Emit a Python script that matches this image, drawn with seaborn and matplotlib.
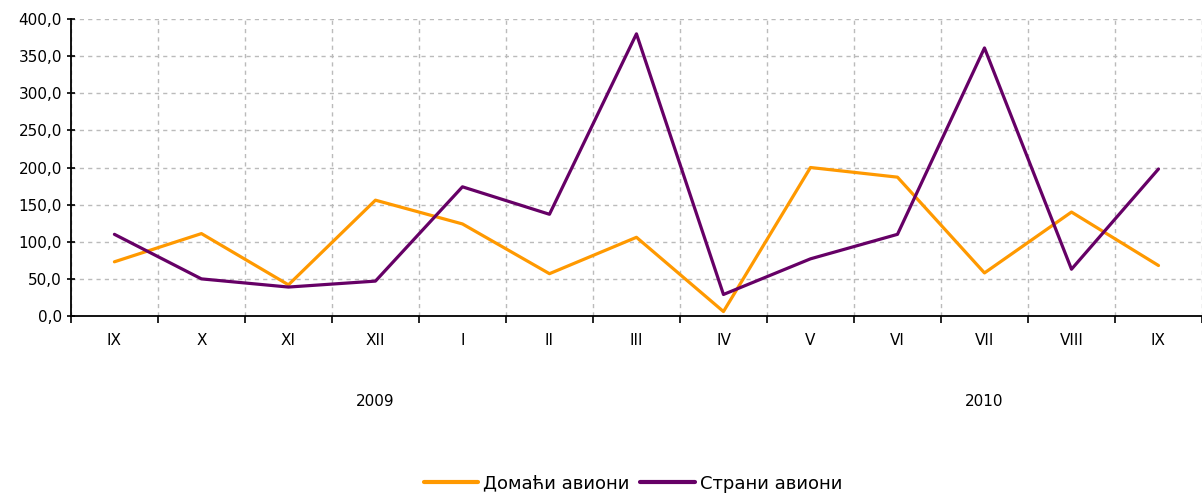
import pandas as pd
import matplotlib
matplotlib.use("Agg")
import matplotlib.pyplot as plt
import seaborn as sns
from matplotlib.ticker import FuncFormatter, FixedLocator

# podaci očitani sa grafikona
meseci = ["IX", "X", "XI", "XII", "I", "II", "III", "IV", "V", "VI", "VII", "VIII", "IX"]
domaci = [73, 111, 42, 156, 124, 57, 106, 6, 200, 187, 58, 140, 68]
strani = [110, 50, 39, 47, 174, 137, 380, 29, 77, 110, 361, 63, 198]
godine = ["2009", "2010"]
godine_poz = [3, 10]

poz = list(range(len(meseci)))
df = pd.concat([
    pd.DataFrame({"poz": poz, "vrednost": domaci, "serija": "Домаћи авиони"}),
    pd.DataFrame({"poz": poz, "vrednost": strani, "serija": "Страни авиони"}),
])

sns.set_style("white")
plt.rcParams["font.family"] = ["DejaVu Sans"]
plt.rcParams["text.color"] = "black"
plt.rcParams["xtick.color"] = "black"
plt.rcParams["ytick.color"] = "black"

fig = plt.figure(figsize=(12.02, 4.95), dpi=100)
ax = fig.add_axes([0.059, 0.3616, 0.941, 0.6])

sns.lineplot(data=df, x="poz", y="vrednost", hue="serija",
             palette=["#FF9900", "#660066"], linewidth=2.3, ax=ax, legend=True)

ax.set_xlim(-0.5, len(meseci) - 0.5)
ax.set_ylim(0, 400)
ax.set_yticks(range(0, 401, 50))
ax.yaxis.set_major_formatter(FuncFormatter(lambda v, p: f"{v:.1f}".replace(".", ",")))

# granice kategorija kao glavne podele, nazivi meseci na sredini
ax.xaxis.set_major_locator(FixedLocator([i - 0.5 for i in range(len(meseci) + 1)]))
ax.xaxis.set_minor_locator(FixedLocator(poz))
ax.set_xticklabels([""] * (len(meseci) + 1))
ax.set_xticklabels(meseci, minor=True)
ax.tick_params(axis="x", which="major", bottom=True, length=5, width=1.2, direction="out",
               color="black")
ax.tick_params(axis="x", which="minor", bottom=True, length=0, pad=12, labelsize=11,
               labelcolor="black")
ax.tick_params(axis="y", which="major", left=True, length=6, width=1.2, direction="inout",
               labelsize=11, color="black", labelcolor="black")

ax.grid(True, which="major", color="#BBBBBB", linestyle=(0, (3, 3)), linewidth=1)
for s in ["top", "right"]:
    ax.spines[s].set_visible(False)
for s in ["left", "bottom"]:
    ax.spines[s].set_color("black")
    ax.spines[s].set_linewidth(1.3)

for g, p in zip(godine, godine_poz):
    ax.text(p, -115, g, ha="center", va="center", fontsize=11, color="black")

ax.set_xlabel("")
ax.set_ylabel("")
leg = ax.legend(loc="lower center", bbox_to_anchor=(0.497, -0.65), ncol=2, frameon=False,
                fontsize=13, handlelength=3, columnspacing=0.6, handletextpad=0.3)
for line in leg.get_lines():
    line.set_linewidth(3)
for t in leg.get_texts():
    t.set_color("black")

fig.savefig("out.png", dpi=100)
